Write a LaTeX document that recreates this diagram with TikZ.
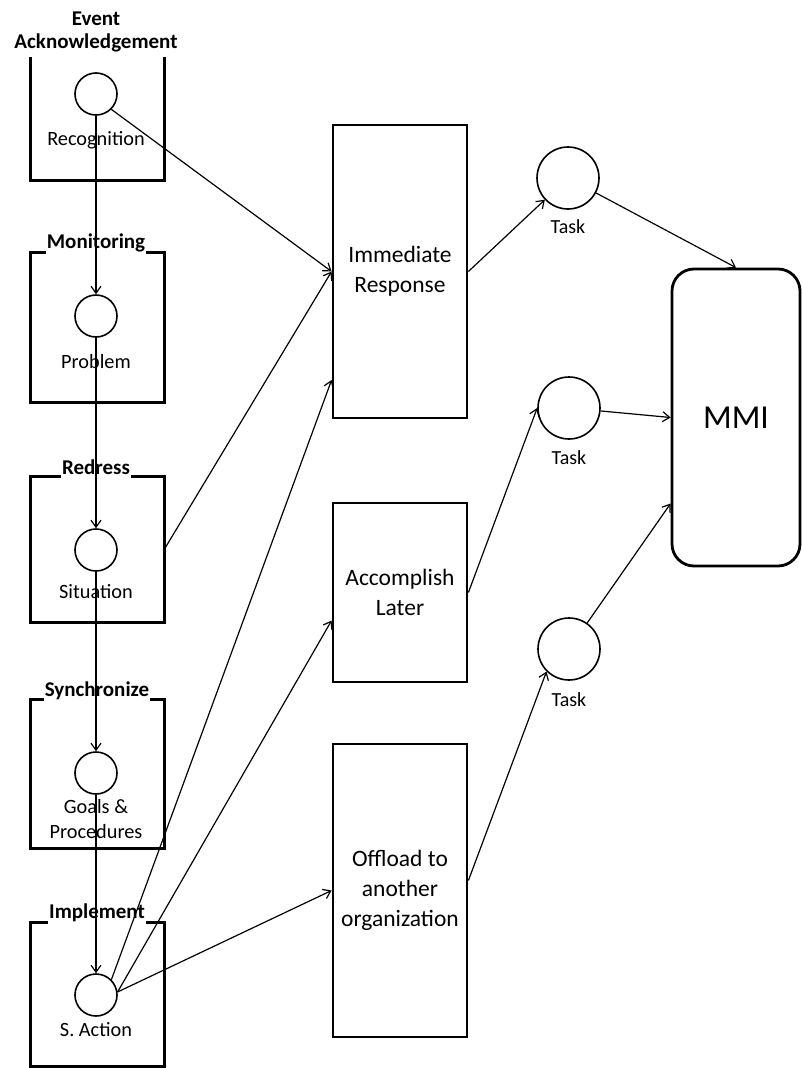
\documentclass[tikz,border=0pt]{standalone}
\usepackage{fontspec}
\setmainfont{Carlito}
\usetikzlibrary{arrows.meta,calc}

\begin{document}
\begin{tikzpicture}[x=1pt,y=-1pt,
  stage/.style={rectangle, draw=none, minimum width=133pt, inner sep=0pt},
  framepen/.style={line width=2.8pt, line join=miter},
  state/.style={circle, draw, line width=1.6pt, minimum size=42pt, inner sep=0pt},
  task/.style={circle, draw, line width=1.6pt, minimum size=62pt, inner sep=0pt},
  action/.style={rectangle, draw, line width=2.8pt, minimum width=134pt, inner sep=0pt,
                 align=center, font=\fontsize{23.5}{30}\selectfont},
  phase/.style={font=\bfseries\fontsize{21}{23}\selectfont, inner xsep=1pt, inner ysep=0pt, align=center},
  caption/.style={font=\fontsize{20.3}{25}\selectfont, inner sep=0pt, align=center},
  tasklabel/.style={font=\fontsize{20}{22}\selectfont, inner sep=0pt},
  flow/.style={line width=1.2pt, -{Straight Barb[length=7pt,width=10pt]}},
]
\path[fill=white, use as bounding box] (0,0) rectangle (802,1068);

% stage frames (invisible placeholders; outlines drawn below)
\node[stage, minimum height=123pt] (b1) at (97.5,118.5) {};
\node[stage, minimum height=149pt] (b2) at (97.5,327.5) {};
\node[stage, minimum height=145pt] (b3) at (97.5,549.5) {};
\node[stage, minimum height=148pt] (b4) at (97.5,774) {};
\node[stage, minimum height=143pt] (b5) at (97.5,994.5) {};

% stage titles
\node[phase] (l1) at (96,31.5) {Event\\Acknowledgement};
\node[phase] (l2) at (96,243) {Monitoring};
\node[phase] (l3) at (96,467) {Redress};
\node[phase] (l4) at (97,691) {Synchronize};
\node[phase] (l5) at (97,913) {Implement};

% frame outlines, open where the title sits
\draw[framepen] (b1.north west) -- (b1.south west) -- (b1.south east) -- (b1.north east);
\foreach \b/\l in {b2/l2, b3/l3, b4/l4, b5/l5}{
  \draw[framepen] (\l.west |- \b.north) -- (\b.north west) -- (\b.south west)
    -- (\b.south east) -- (\b.north east) -- (\l.east |- \b.north);
}

% stage states
\node[state] (c1) at (96,94) {};
\node[state] (c2) at (96,316) {};
\node[state] (c3) at (96,550) {};
\node[state] (c4) at (96,773) {};
\node[state] (c5) at (96,995) {};

\node[caption] (t_c1) at (96,140) {Recognition};
\node[caption] (t_c2) at (96,362) {Problem};
\node[caption] (t_c3) at (96,592) {Situation};
\node[caption] (t_c4) at (96,819.5) {Goals \&\\Procedures};
\node[caption] (t_c5) at (96,1030) {S. Action};

% response options
\node[action, minimum height=293pt] (ir) at (400,271.5) {Immediate\\Response};
\node[action, minimum height=179pt] (al) at (400,592.5) {Accomplish\\Later};
\node[action, minimum height=293pt] (off) at (400,890.5) {Offload to\\another\\organization};

% tasks
\node[task] (t1) at (568,178) {};
\node[task] (t2) at (569,408) {};
\node[task] (t3) at (569,649) {};
\node[tasklabel] (tl1) at (568,227) {Task};
\node[tasklabel] (tl2) at (569,458) {Task};
\node[tasklabel] (tl3) at (569,700) {Task};

% interface
\node[rectangle, draw, rounded corners=22pt, line width=2.8pt, minimum width=128pt,
      minimum height=297pt, font=\fontsize{33.5}{36}\selectfont] (mmi) at (736,417.5) {MMI};

% stage chain
\draw[flow] (c1) -- (c2);
\draw[flow] (c2) -- (c3);
\draw[flow] (c3) -- (c4);
\draw[flow] (c4) -- (c5);

% into the response options
\draw[flow] (c1.-45) -- (ir.west);
\draw[flow] (b3.east) -- (ir.west);
\draw[flow] (c5.45) -- ([yshift=-108.5pt]ir.west);
\draw[flow] (c5.8) -- ([yshift=-28pt]al.west);
\draw[flow] (c5.8) -- (off.west);

% options to tasks
\draw[flow] (ir.east) -- (t1);
\draw[flow] (al.east) -- (t2.west);
\draw[flow] ([yshift=10pt]off.east) -- (t3.south west);

% tasks to interface
\draw[flow] (t1) -- (mmi.north);
\draw[flow] (t2) -- (mmi.west);
\draw[flow] (t3) -- ([yshift=-86pt]mmi.west);
\end{tikzpicture}
\end{document}
